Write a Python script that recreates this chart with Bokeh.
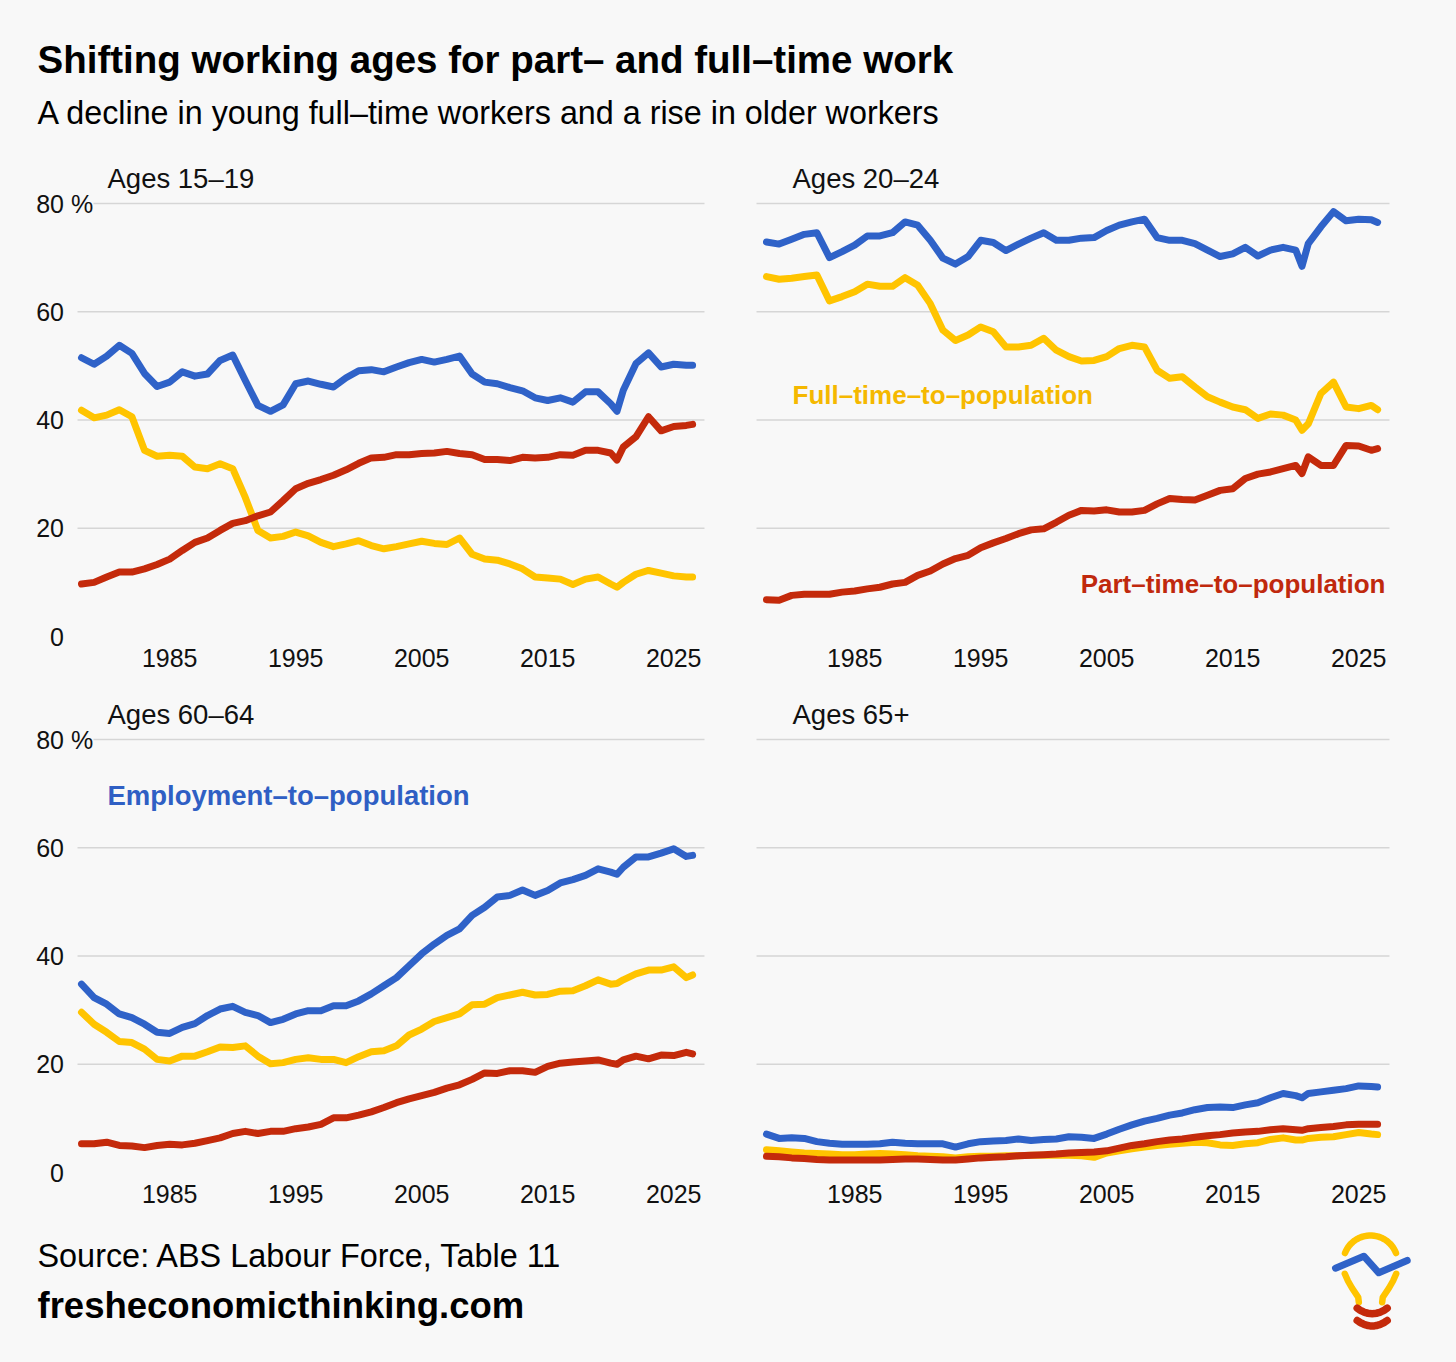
import numpy as np
from bokeh.plotting import figure
from bokeh.layouts import column, row
from bokeh.models import Range1d, FixedTicker
from bokeh.core.properties import value
from bokeh.embed import file_html
from bokeh.resources import INLINE

# ---------------- data ----------------
years = list(range(1978, 2021)) + [2020.5] + list(range(2021, 2027)) + [2026.5]

# Ages 15-19
emp_15_19 = [51.5, 50.3, 51.8, 53.8, 52.3, 48.6, 46.2, 47.0, 48.9, 48.1,
             48.5, 51.0, 52.0, 47.3, 42.7, 41.6, 42.8, 46.7, 47.2, 46.6,
             46.1, 47.8, 49.1, 49.3, 48.9, 49.8, 50.6, 51.2, 50.7, 51.2,
             51.8, 48.5, 47.0, 46.7, 46.0, 45.4, 44.1, 43.6, 44.1, 43.3,
             45.2, 45.2, 43.0, 41.6, 45.5, 50.4, 52.4, 49.8, 50.3, 50.1,
             50.1]
ft_15_19 = [41.8, 40.4, 40.9, 41.9, 40.6, 34.4, 33.3, 33.5, 33.3, 31.3,
            31.0, 31.9, 31.0, 25.7, 19.6, 18.2, 18.5, 19.3, 18.6, 17.4,
            16.6, 17.1, 17.7, 16.8, 16.2, 16.6, 17.1, 17.6, 17.2, 17.0,
            18.2, 15.2, 14.3, 14.1, 13.4, 12.5, 11.0, 10.8, 10.6, 9.6,
            10.6, 11.0, 9.7, 9.1, 10.0, 11.5, 12.2, 11.7, 11.2, 11.0,
            11.0]
pt_15_19 = [9.7, 10.0, 11.0, 11.9, 11.9, 12.5, 13.3, 14.3, 15.9, 17.4,
            18.2, 19.6, 20.9, 21.4, 22.3, 23.0, 25.1, 27.3, 28.3, 29.0,
            29.8, 30.8, 32.0, 33.0, 33.1, 33.6, 33.6, 33.8, 33.9, 34.2,
            33.8, 33.6, 32.7, 32.7, 32.5, 33.1, 33.0, 33.1, 33.6, 33.5,
            34.4, 34.4, 33.9, 32.6, 35.0, 36.9, 40.6, 38.0, 38.8, 39.0,
            39.2]

# Ages 20-24
emp_20_24 = [72.9, 72.5, 73.4, 74.3, 74.6, 70.0, 71.1, 72.3, 74.0, 74.0,
             74.6, 76.6, 76.0, 73.2, 69.9, 68.8, 70.2, 73.2, 72.8, 71.3,
             72.5, 73.6, 74.6, 73.2, 73.2, 73.6, 73.7, 75.0, 76.0, 76.6,
             77.1, 73.7, 73.2, 73.2, 72.6, 71.4, 70.2, 70.7, 71.9, 70.3,
             71.4, 71.9, 71.4, 68.4, 72.6, 75.7, 78.5, 76.8, 77.1, 77.0,
             76.5]
ft_20_24 = [66.5, 66.0, 66.2, 66.5, 66.8, 62.0, 62.8, 63.7, 65.1, 64.7,
            64.7, 66.3, 64.9, 61.5, 56.6, 54.7, 55.7, 57.2, 56.3, 53.5,
            53.5, 53.8, 55.1, 52.9, 51.7, 50.9, 51.0, 51.7, 53.2, 53.8,
            53.5, 49.2, 47.7, 48.0, 46.1, 44.3, 43.3, 42.4, 41.9, 40.3,
            41.1, 40.9, 40.0, 38.1, 39.3, 44.9, 47.0, 42.4, 42.1, 42.7,
            41.9]
pt_20_24 = [6.8, 6.7, 7.6, 7.8, 7.8, 7.8, 8.2, 8.4, 8.8, 9.1,
            9.7, 10.0, 11.3, 12.1, 13.4, 14.4, 15.0, 16.4, 17.3, 18.1,
            19.0, 19.7, 19.9, 21.1, 22.4, 23.3, 23.2, 23.4, 23.0, 23.0,
            23.3, 24.5, 25.5, 25.3, 25.2, 26.1, 27.0, 27.3, 29.2, 30.0,
            30.4, 31.0, 31.6, 30.1, 33.2, 31.6, 31.6, 35.3, 35.2, 34.4,
            34.7]

# Ages 60-64
emp_60_64 = [34.8, 32.3, 31.1, 29.3, 28.6, 27.4, 25.9, 25.7, 26.8, 27.5,
             29.0, 30.2, 30.7, 29.6, 29.0, 27.7, 28.3, 29.3, 29.9, 29.9,
             30.8, 30.8, 31.7, 33.0, 34.5, 36.0, 38.2, 40.4, 42.2, 43.8,
             45.0, 47.5, 49.0, 50.9, 51.2, 52.2, 51.2, 52.1, 53.5, 54.1,
             54.9, 56.1, 55.5, 55.1, 56.4, 58.3, 58.3, 59.0, 59.8, 58.4,
             58.6]
ft_60_64 = [29.6, 27.4, 25.9, 24.2, 24.0, 22.8, 20.9, 20.6, 21.5, 21.5,
            22.3, 23.2, 23.1, 23.4, 21.5, 20.1, 20.3, 20.9, 21.2, 20.9,
            20.9, 20.3, 21.4, 22.3, 22.5, 23.4, 25.4, 26.5, 27.9, 28.6,
            29.3, 31.0, 31.1, 32.3, 32.8, 33.3, 32.8, 32.9, 33.5, 33.6,
            34.5, 35.6, 34.8, 34.9, 35.6, 36.7, 37.4, 37.4, 38.0, 36.0,
            36.5]
pt_60_64 = [5.3, 5.3, 5.6, 5.0, 4.9, 4.6, 5.0, 5.2, 5.1, 5.4,
            5.9, 6.4, 7.2, 7.6, 7.2, 7.6, 7.6, 8.1, 8.4, 8.9,
            10.1, 10.1, 10.6, 11.2, 12.0, 12.9, 13.6, 14.2, 14.8, 15.6,
            16.2, 17.2, 18.4, 18.3, 18.8, 18.8, 18.5, 19.6, 20.2, 20.4,
            20.6, 20.8, 20.2, 20.0, 20.8, 21.5, 21.0, 21.7, 21.6, 22.2,
            21.9]

# Ages 65+
emp_65 = [7.1, 6.3, 6.4, 6.3, 5.7, 5.4, 5.2, 5.2, 5.2, 5.3,
          5.6, 5.4, 5.3, 5.3, 5.3, 4.7, 5.3, 5.7, 5.8, 5.9,
          6.2, 5.9, 6.1, 6.2, 6.6, 6.5, 6.3, 7.1, 8.0, 8.8,
          9.5, 10.0, 10.6, 11.0, 11.6, 12.0, 12.1, 12.0, 12.5, 12.9,
          13.8, 14.6, 14.2, 13.8, 14.6, 14.9, 15.2, 15.5, 16.0, 15.9,
          15.8]
ft_65 = [4.2, 4.0, 3.8, 3.6, 3.5, 3.4, 3.3, 3.3, 3.4, 3.5,
         3.4, 3.3, 3.1, 3.0, 2.9, 2.7, 2.9, 3.0, 3.0, 3.1,
         3.1, 3.2, 3.2, 3.2, 3.2, 3.1, 2.8, 3.6, 4.0, 4.4,
         4.7, 5.0, 5.2, 5.4, 5.6, 5.5, 5.1, 5.0, 5.3, 5.5,
         6.1, 6.4, 6.0, 6.0, 6.3, 6.5, 6.6, 7.0, 7.4, 7.1,
         7.0]
pt_65 = [3.0, 2.9, 2.7, 2.6, 2.4, 2.3, 2.3, 2.3, 2.3, 2.3,
         2.4, 2.5, 2.5, 2.4, 2.3, 2.3, 2.5, 2.7, 2.8, 2.9,
         3.1, 3.2, 3.3, 3.4, 3.6, 3.7, 3.8, 4.0, 4.5, 5.0,
         5.3, 5.7, 6.0, 6.2, 6.5, 6.8, 7.0, 7.3, 7.5, 7.6,
         7.9, 8.1, 7.9, 7.8, 8.1, 8.3, 8.5, 8.8, 8.9, 8.9,
         8.9]

panel_titles = ["Ages 15–19", "Ages 20–24", "Ages 60–64", "Ages 65+"]
x_ticks = [1985, 1995, 2005, 2015, 2025]
y_ticks = [0, 20, 40, 60]
y_tick_labels = ["0", "20", "40", "60"]
y_top_tick = 80
y_top_label = "80 %"
grid_levels = [20, 40, 60, 80]

title_text = "Shifting working ages for part– and full–time work"
subtitle_text = "A decline in young full–time workers and a rise in older workers"
source_text = "Source: ABS Labour Force, Table 11"
site_text = "fresheconomicthinking.com"
label_emp = "Employment–to–population"
label_ft = "Full–time–to–population"
label_pt = "Part–time–to–population"

# ---------------- styling ----------------
BG = "#f8f8f8"
BLUE = "#2f62c8"
YELLOW = "#ffc400"
RED = "#c42a0b"
BLUE_T = "#2f5fc4"
YELLOW_T = "#f5b800"
RED_T = "#c0290d"
GRID = "#d6d6d6"
INK = "#111111"
FONT = "Liberation Sans"

TOTAL_W = 1452
LW, RW, PH = 728, 724, 536   # panel sizes (left / right width, height)
PX_YEAR = 12.6               # px per year
PX_UNIT = 5.4125             # px per percentage point
ZERO_FROM_TOP = 486          # px from panel top to the 0 level
BOTTOM_PAD = 14              # frame extends below the 0 level
LINE_W = 7


def make_panel(series, title, left, labels=()):
    pw = LW if left else RW
    data_px0 = 81 if left else 38       # px of first data year inside panel
    x0 = years[0] - data_px0 / PX_YEAR
    x1 = x0 + pw / PX_YEAR
    y0 = -BOTTOM_PAD / PX_UNIT
    y1 = ZERO_FROM_TOP / PX_UNIT
    frame_h = ZERO_FROM_TOP + BOTTOM_PAD

    def fx(px):
        return x0 + px / PX_YEAR

    def fy(px_from_top):
        return (ZERO_FROM_TOP - px_from_top) / PX_UNIT

    p = figure(width=pw, height=PH, x_range=Range1d(x0, x1), y_range=Range1d(y0, y1),
               y_axis_location=None, output_backend="svg", toolbar_location=None,
               min_border_left=0, min_border_right=0, min_border_top=0,
               min_border_bottom=PH - frame_h,
               background_fill_color=BG, border_fill_color=BG, outline_line_color=None)
    p.grid.visible = False

    ax = p.xaxis[0]
    ax.ticker = FixedTicker(ticks=x_ticks)
    ax.axis_line_color = None
    ax.major_tick_line_color = None
    ax.minor_tick_line_color = None
    ax.major_label_standoff = -8
    ax.major_label_text_font = FONT
    ax.major_label_text_font_size = "25px"
    ax.major_label_text_color = INK

    # horizontal grid lines
    gstart = 77 if left else 28
    gend = 704 if left else 661
    g0 = []
    for lv in grid_levels:
        if left and lv == y_top_tick:
            g0.append(fx(93))
        else:
            g0.append(fx(gstart))
    p.segment(x0=g0, y0=grid_levels, x1=[fx(gend)] * len(grid_levels), y1=grid_levels,
              line_color=GRID, line_width=1.4)

    # y labels
    if left:
        p.text(x=[fx(63.5)] * len(y_ticks), y=y_ticks, text=y_tick_labels,
               text_font=value(FONT), text_font_size="25px", text_color=INK,
               text_align="right", text_baseline="middle")
        p.text(x=[fx(63.5 - 2 * 0.556 * 25)], y=[y_top_tick], text=[y_top_label],
               text_font=value(FONT), text_font_size="25px", text_color=INK,
               text_align="left", text_baseline="middle")

    # panel title
    p.text(x=[fx(data_px0 + 26)], y=[fy(28)], text=[title],
           text_font=value(FONT), text_font_size="27.5px", text_color=INK,
           text_align="left", text_baseline="middle")

    emp, ft, pt = series
    for vals, col in ((emp, BLUE), (ft, YELLOW), (pt, RED)):
        p.line(years, vals, line_color=col, line_width=LINE_W,
               line_cap="round", line_join="round")

    for (txt, px, center_from_top, align, col, fs) in labels:
        p.text(x=[fx(px)], y=[fy(center_from_top)], text=[txt],
               text_font=value(FONT), text_font_size=fs, text_font_style="bold",
               text_color=col, text_align=align, text_baseline="middle")
    return p


p1 = make_panel((emp_15_19, ft_15_19, pt_15_19), panel_titles[0], True)
p2 = make_panel((emp_20_24, ft_20_24, pt_20_24), panel_titles[1], False,
                labels=[(label_ft, 64, 244, "left", YELLOW_T, "26px"),
                        (label_pt, 657, 433, "right", RED_T, "26px")])
p3 = make_panel((emp_60_64, ft_60_64, pt_60_64), panel_titles[2], True,
                labels=[(label_emp, 107, 109, "left", BLUE_T, "27.5px")])
p4 = make_panel((emp_65, ft_65, pt_65), panel_titles[3], False)

# ---------------- header ----------------
HH = 150
head = figure(width=TOTAL_W, height=HH, x_range=Range1d(0, TOTAL_W), y_range=Range1d(HH, 0),
              x_axis_location=None, y_axis_location=None, output_backend="svg",
              toolbar_location=None, min_border=0, background_fill_color=BG,
              border_fill_color=BG, outline_line_color=None)
head.grid.visible = False
head.text(x=[37], y=[59], text=[title_text], text_font=value(FONT), text_font_size="38.5px",
          text_font_style="bold", text_color="#000000", text_align="left",
          text_baseline="middle")
head.text(x=[37], y=[112], text=[subtitle_text], text_font=value(FONT), text_font_size="32.3px",
          text_color="#000000", text_align="left", text_baseline="middle")

# ---------------- footer (page coordinates) ----------------
F_TOP, F_BOT = 1222, 1360
foot = figure(width=TOTAL_W, height=F_BOT - F_TOP, x_range=Range1d(0, TOTAL_W),
              y_range=Range1d(F_BOT, F_TOP),
              x_axis_location=None, y_axis_location=None, output_backend="svg",
              toolbar_location=None, min_border=0, background_fill_color=BG,
              border_fill_color=BG, outline_line_color=None)
foot.grid.visible = False
foot.text(x=[37], y=[1255], text=[source_text], text_font=value(FONT), text_font_size="32.4px",
          text_color="#000000", text_align="left", text_baseline="middle")
foot.text(x=[37], y=[1305], text=[site_text], text_font=value(FONT), text_font_size="36.5px",
          text_font_style="bold", text_color="#000000", text_align="left",
          text_baseline="middle")

# logo (light bulb)
cx, cy, r = 1370.0, 1262.3, 27.3
ang = np.radians(np.linspace(21, 159, 30))
foot.line(cx + r * np.cos(ang), cy - r * np.sin(ang), line_color=YELLOW, line_width=6.5,
          line_cap="round")
foot.line([1344.3, 1347.5, 1351.5, 1357.7, 1358.3], [1273.3, 1280.5, 1287.5, 1296.7, 1301.7],
          line_color=YELLOW, line_width=6.5, line_cap="round", line_join="round")
foot.line([1395.7, 1392.5, 1388.5, 1382.3, 1381.7], [1273.3, 1280.5, 1287.5, 1296.7, 1301.7],
          line_color=YELLOW, line_width=6.5, line_cap="round", line_join="round")
foot.line([1335, 1363.3, 1378.3, 1406.7], [1267.7, 1255.7, 1272.3, 1260.0],
          line_color=BLUE, line_width=7, line_cap="round", line_join="round")
tt = np.linspace(-1, 1, 15)
for base in (1307.7, 1320.0):
    foot.line(1371.7 + 15 * tt, base + 5.5 * (1 - tt ** 2), line_color=RED, line_width=7.5,
              line_cap="round")

layout = column(head, row(p1, p2), row(p3, p4), foot)

html = file_html(layout, INLINE, title="Shifting working ages")
html = html.replace("<head>", "<head><style>body{background-color:#f8f8f8;}</style>", 1)
open("out.html", "w").write(html)
